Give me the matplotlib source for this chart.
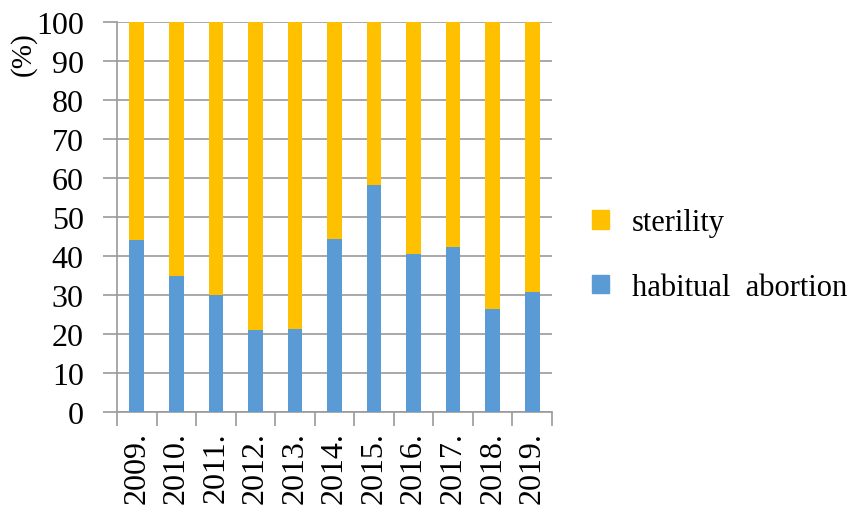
import matplotlib
matplotlib.use("Agg")
import matplotlib.pyplot as plt
from matplotlib.patches import Patch
import numpy as np

years = ["2009.", "2010.", "2011.", "2012.", "2013.", "2014.",
         "2015.", "2016.", "2017.", "2018.", "2019."]
habitual_abortion = [44.1, 34.8, 29.9, 21.0, 21.4, 44.4, 58.1, 40.6, 42.4, 26.5, 30.8]
sterility = [100 - v for v in habitual_abortion]

blue = "#5B9BD5"
yellow = "#FFC000"
grid_col = "#9A9A9A"

plt.rcParams["font.family"] = ["Liberation Serif", "DejaVu Serif"]
fs = 23

fig = plt.figure(figsize=(8.48, 5.06), dpi=100)
ax = fig.add_axes([117 / 848, 1 - 413 / 506, (552 - 117) / 848, (413 - 23) / 506])

x = np.arange(len(years))
w = 0.37
ax.bar(x, habitual_abortion, width=w, color=blue, zorder=3)
ax.bar(x, sterility, width=w, bottom=habitual_abortion, color=yellow, zorder=3)

ax.set_xlim(-0.5, len(years) - 0.5)
ax.set_ylim(0, 100)
ax.set_yticks(np.arange(0, 101, 10))
ax.yaxis.grid(True, color=grid_col, linewidth=1.2, zorder=0)
ax.tick_params(axis="y", length=10, width=1.2, color=grid_col, pad=14, labelsize=fs)

ax.set_xticks(x)
ax.set_xticklabels(years, rotation=90, fontsize=fs)
ax.set_xticks(np.arange(-0.5, len(years)), minor=True)
ax.tick_params(axis="x", which="major", length=0, pad=14)
ax.tick_params(axis="x", which="minor", length=10, width=1.2, color=grid_col)

for side in ["top", "right"]:
    ax.spines[side].set_visible(False)
for side in ["left", "bottom"]:
    ax.spines[side].set_color(grid_col)
    ax.spines[side].set_linewidth(1.2)

fig.text(23 / 848, 1 - 54 / 506, "(%)", rotation=90, fontsize=fs - 2,
         ha="center", va="center")

handles = [Patch(color=yellow), Patch(color=blue)]
fig.legend(handles, ["sterility", "habitual  abortion"], loc="center left",
           bbox_to_anchor=(592 / 848, 1 - 256 / 506), frameon=False,
           fontsize=fs - 1, handlelength=0.55, handleheight=0.55,
           handletextpad=0.75, labelspacing=1.15, borderpad=0, borderaxespad=0)

fig.savefig("out.png", dpi=100)
